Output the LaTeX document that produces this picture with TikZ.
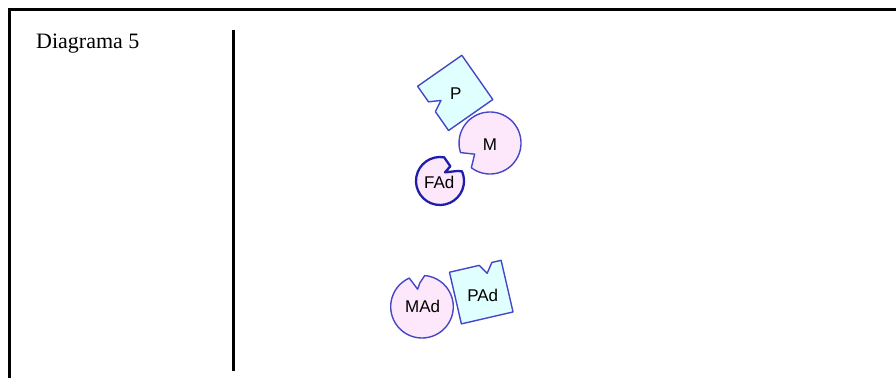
\documentclass[tikz,border=0pt]{standalone}
\usepackage{fontspec}
\setmainfont{Liberation Serif}
\setsansfont{Liberation Sans}
\usepackage{xcolor}
\usepackage{tikz}
\definecolor{edgeblue}{RGB}{70,70,200}
\definecolor{darkblue}{RGB}{30,30,170}
\definecolor{cyanfill}{RGB}{224,255,255}
\definecolor{pinkfill}{RGB}{252,232,250}
\tikzstyle{square} = [draw=edgeblue, 
line width=1.4pt, 
fill=cyanfill, 
line join=round]
\tikzstyle{disc} = [draw=edgeblue, 
line width=1.4pt, 
fill=pinkfill, 
line join=round]
\tikzstyle{tag} = [font=\sffamily\fontsize{17}{20}\selectfont, 
inner sep=0pt]
\tikzstyle{frame} = [line width=3pt]

\begin{document}
\begin{tikzpicture}[x=1pt, y=1pt]

    \useasboundingbox (0,0) rectangle (896,378);
    \draw [frame] (896,368.3) -- (9.7,368.3) -- (9.7,0);
    \draw [frame] (233.8,348) -- (233.8,7);
    \node (title) [anchor=base west, inner sep=0pt, font=\fontsize{22}{26}\selectfont] at (36,329.7) {Diagrama 5};

    % upper group
    \draw [square, shift={(455.2,285.1)}, rotate=35] (-27,27) -- (27,27) -- (27,-27) -- (-27,-27) -- (-27,-4) -- (-16,2) -- (-27,8) -- cycle;
    \draw [disc, shift={(490,235)}] (233:31) arc[start angle=233, end angle=558, radius=31] -- (216:19) -- cycle;
    \draw [disc, draw=darkblue, line width=2.3pt, shift={(440,197)}] (80:24) arc[start angle=80, end angle=384, radius=24] -- (30:20) -- (60:10) -- (55:18) -- cycle;

    % lower group
    \draw [disc, shift={(422,71.3)}] (114:31.3) arc[start angle=114, end angle=445, radius=31.3] -- (95:24) -- (104:18) -- cycle;
    \draw [square, shift={(481.25,85.9)}, rotate=13] (-26.5,26.5) -- (4,26.5) -- (10,17) -- (17,26.5) -- (26.5,26.5) -- (26.5,-26.5) -- (-26.5,-26.5) -- cycle;

    \node (p) [tag] at (455.7,284) {P};
    \node (m) [tag] at (490,233) {M};
    \node (fad) [tag] at (439.3,195.3) {FAd};
    \node (mad) [tag] at (422.7,71.3) {MAd};
    \node (pad) [tag] at (482.7,83) {PAd};

\end{tikzpicture}
\end{document}
